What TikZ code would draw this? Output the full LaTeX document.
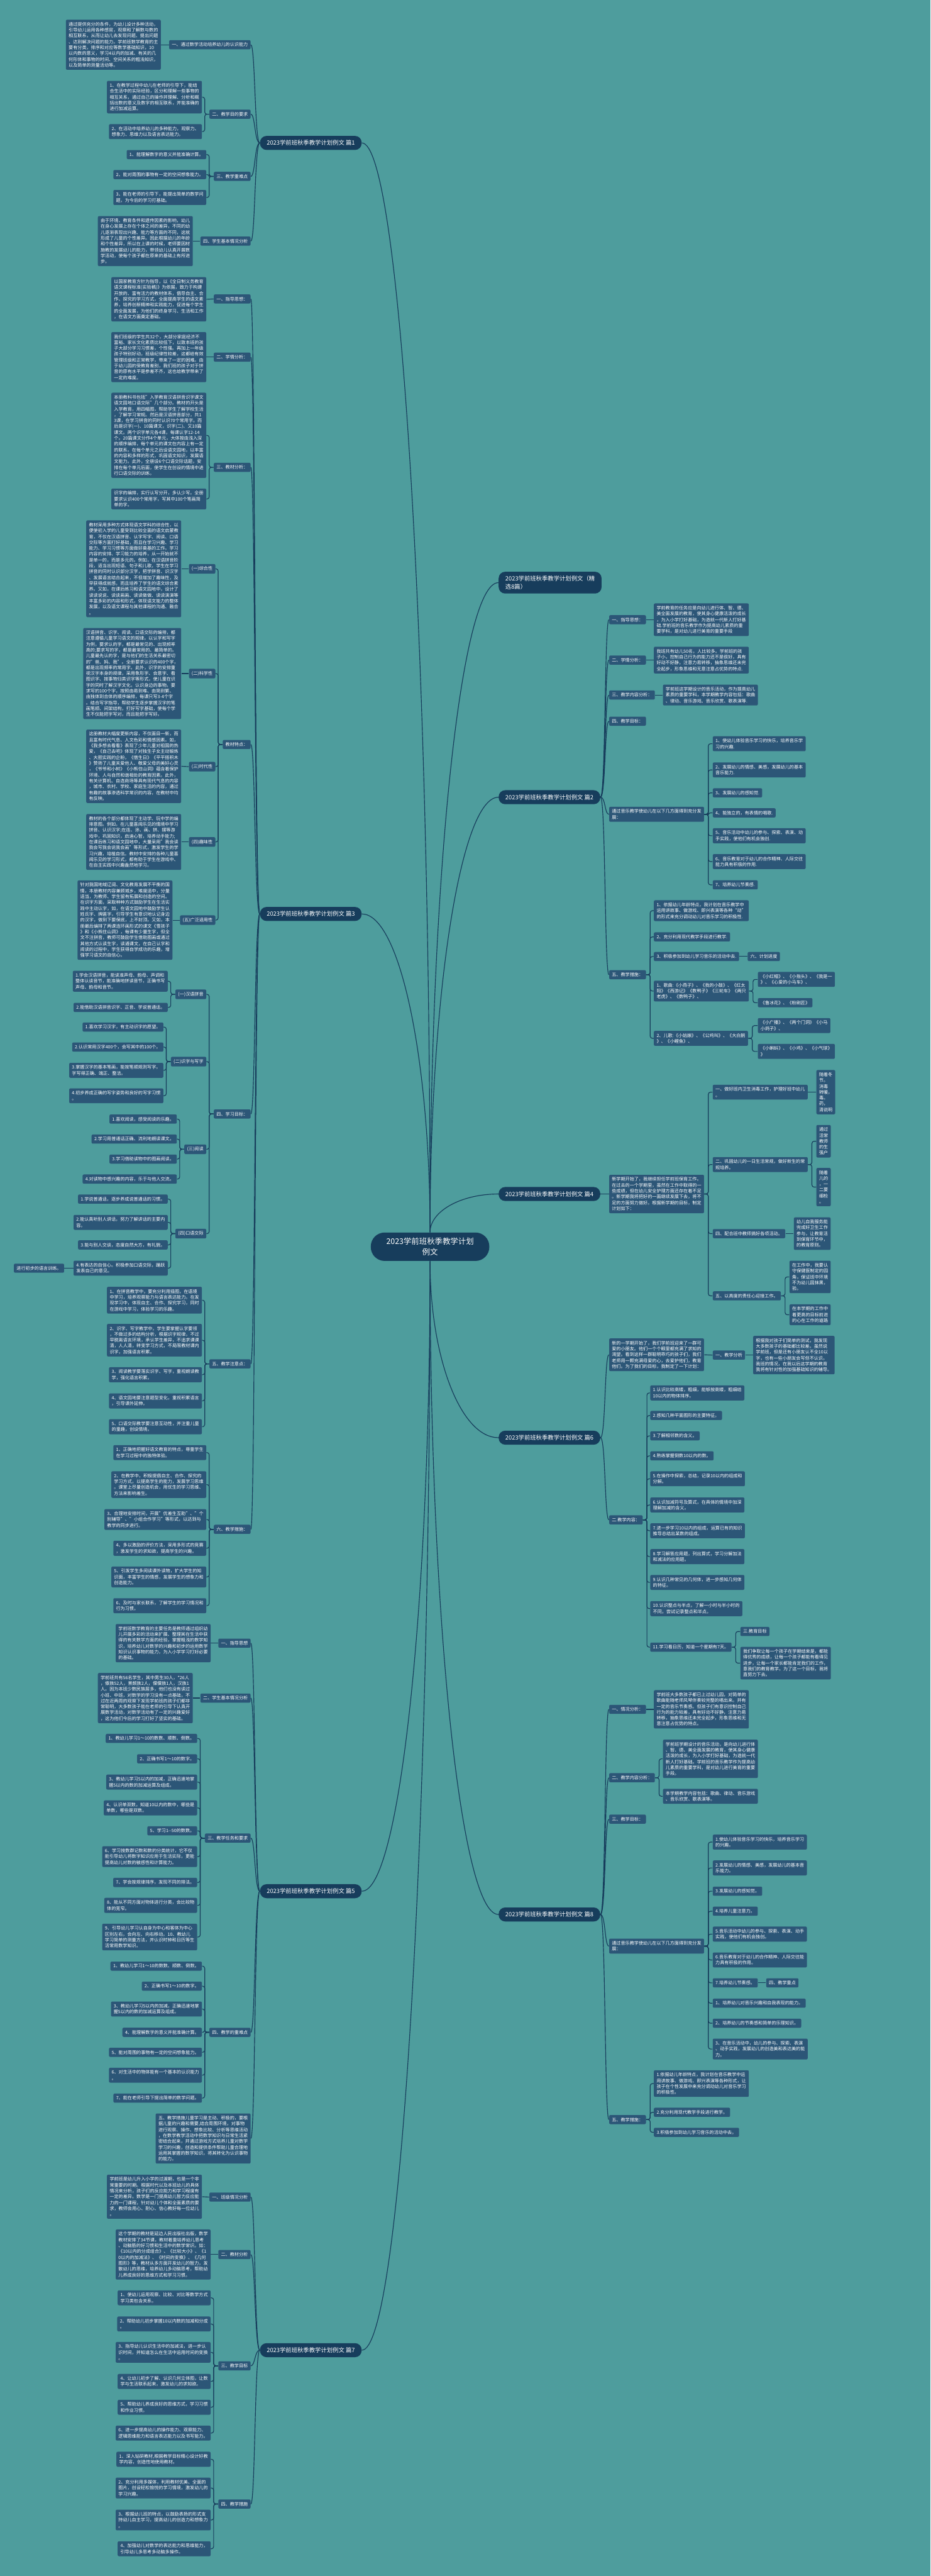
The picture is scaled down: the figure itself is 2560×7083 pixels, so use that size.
\documentclass[tikz,border=0pt]{standalone}
\usepackage{fontspec}
\setmainfont{Noto Sans CJK SC}
\usetikzlibrary{positioning, calc}
\definecolor{bgteal}{HTML}{4E9D9D}
\definecolor{boxblue}{HTML}{2C5677}
\definecolor{navy}{HTML}{173D5C}

\begin{document}
\begin{tikzpicture}[x=0.1mm, y=-0.1mm]

\tikzset{topic/.style = {fill=navy, text=white, rounded corners=3.8mm, align=center, inner xsep=2.6mm, minimum height=7.8mm, font=\fontsize{6.1}{8.5}\selectfont}}
\tikzset{branch/.style = {fill=navy, text=white, rounded corners=1.8mm, align=left, inner xsep=1.85mm, minimum height=3.6mm, font=\fontsize{4.6}{6}\selectfont}}
\tikzset{item/.style = {fill=boxblue, text=white, rounded corners=0.35mm, align=left, inner xsep=0.75mm, inner ysep=0.68mm, font=\fontsize{3.5}{4.58}\selectfont}}
\tikzset{lt/.style = {item, anchor=east}}
\tikzset{rt/.style = {item, anchor=west}}
\tikzset{link/.style = {draw=navy, line width=0.2mm, rounded corners=0.6mm}}

\fill[bgteal] (0,0) rectangle (2560,7083);
\useasboundingbox (0,0) rectangle (2560,7083);

% centre
\node[topic, minimum width=32.6mm] (ctr) at (1183,3428) {2023学前班秋季教学计划\\例文};

% left branches
\node[branch] (p1) at (855,393) {2023学前班秋季教学计划例文 篇1};
\node[branch] (p3) at (855,2513) {2023学前班秋季教学计划例文 篇3};
\node[branch] (p5) at (855,5200) {2023学前班秋季教学计划例文 篇5};
\node[branch] (p7) at (855,6462) {2023学前班秋季教学计划例文 篇7};
% right branches
\node[branch, anchor=west] (t0) at (1371,1602) {2023学前班秋季教学计划例文（精\\选8篇）};
\node[branch, anchor=west] (p2) at (1371,2192) {2023学前班秋季教学计划例文 篇2};
\node[branch, anchor=west] (p4) at (1371,3283) {2023学前班秋季教学计划例文 篇4};
\node[branch, anchor=west] (p6) at (1371,3953) {2023学前班秋季教学计划例文 篇6};
\node[branch, anchor=west] (p8) at (1371,5264) {2023学前班秋季教学计划例文 篇8};

\draw[link] (ctr.north) .. controls +(0,-1648) and +(103,0) .. (p1.east);
\draw[link] (ctr.north) .. controls +(0,-482) and +(103,0) .. (p3.east);
\draw[link] (ctr.south) .. controls +(0,953) and +(103,0) .. (p5.east);
\draw[link] (ctr.south) .. controls +(0,1647) and +(103,0) .. (p7.east);
\draw[link] (ctr.north) .. controls +(0,-983) and +(-103,0) .. (t0.west);
\draw[link] (ctr.north) .. controls +(0,-658) and +(-103,0) .. (p2.west);
\draw[link] (ctr.north) .. controls +(0,-58) and +(-103,0) .. (p4.west);
\draw[link] (ctr.south) .. controls +(0,267) and +(-103,0) .. (p6.west);
\draw[link] (ctr.south) .. controls +(0,988) and +(-103,0) .. (p8.west);

% ---- 篇1 ----
\node[lt] (a1) at (690,123) {一、通过数学活动培养幼儿的认识能力};
\node[lt] (a11) at (443,123) {通过提供充分的条件，为幼儿设计多种活动，\\引导幼儿运用各种感官，观察和了解数与数的\\相互联系，从而让幼儿去发现问题、提出问题\\、达到解决问题的能力。学前班数学教育的主\\要有分类，排序和对应等数学基础知识，10\\以内数的意义，学习4以内的加减、有关的几\\何形体和事物的时间、空间关系的粗浅知识，\\以及简单的测量活动等。};
\node[lt] (a2) at (690,314) {二、教学目的要求};
\node[lt] (a21) at (556,267) {1、在教学过程中幼儿在老师的引导下，能结\\合生活中的实际经验，区分和理解一些事物的\\相互关系，通过自己的操作并理解、分析和概\\括出数的意义及数字的相互联系，并能准确的\\进行加减运算。};
\node[lt] (a22) at (556,362) {2、在活动中培养幼儿的多种能力，观察力、\\想象力、思维力以及语言表达能力。};
\node[lt] (a3) at (690,485) {三、教学重难点};
\node[lt] (a31) at (568,425) {1、能理解数字的意义并能准确计算。};
\node[lt] (a32) at (568,480) {2、能对周围的事物有一定的空间想象能力。};
\node[lt] (a33) at (568,543) {3、能在老师的引导下，能提出简单的数学问\\题，为今后的学习打基础。};
\node[lt] (a4) at (690,663) {四、学生基本情况分析};
\node[lt] (a41) at (531,663) {由于环境、教育条件和遗传因素的影响，幼儿\\在身心发展上存在个体之间的差异，不同的幼\\儿逐渐表现出兴趣、能力等方面的不同，这就\\形成了儿童的个性差异。因此根据幼儿的年龄\\和个性差异，所以在上课的时候，老师要因材\\施教的发展幼儿的能力，带领幼儿认真开展数\\学活动，使每个孩子都在原来的基础上有所进\\步。};

\foreach \c in {a1,a2,a3,a4}
  \draw[link] (p1.west) .. controls +(-14,0) and +(12,0) .. (\c.east);
\draw[link] (a1.west) -- (a11.east);
\foreach \c in {a21,a22}
  \draw[link] (a2.west) -- ++(-12,0) |- (\c.east);
\foreach \c in {a31,a32,a33}
  \draw[link] (a3.west) -- ++(-12,0) |- (\c.east);
\draw[link] (a4.west) -- (a41.east);

% ---- 篇3 ----
\node[lt] (b1) at (690,822) {一、指导思想：};
\node[lt] (b11) at (568,823) {以国家教育方针为指导，以《全日制义务教育\\语文课程标准(实验稿)》为依据，致力于构建\\开放的、富有活力的教材体系，倡导自主、合\\作、探究的学习方式，全面提高学生的语文素\\养，培养创新精神和实践能力，促进每个学生\\的全面发展，为他们的终身学习、生活和工作\\，在语文方面奠定基础。};
\node[lt] (b2) at (690,982) {二、学情分析：};
\node[lt] (b21) at (568,982) {我们班级的学生共32个，大部分家庭经济不\\富裕、家长文化素质比较低下，以致本班的孩\\子大部分学习习惯差，个性强。再加上一年级\\孩子特别好动，班级纪律性较差，这都给有效\\管理班级和正常教学，带来了一定的困难。由\\于幼儿园的受教育差别，我们班的孩子对于拼\\音的原有水平是参差不齐，这也给教学带来了\\一定的难度。};
\node[lt] (b3) at (690,1285) {三、教材分析：};
\node[lt] (b31) at (568,1197) {本册教科书包括"入学教育汉语拼音识字课文\\语文园地口语交际"几个部分。教材的开头是\\入学教育，用四幅图，帮助学生了解学校生活\\，了解学习常规。然后是汉语拼音部分，共1\\3课，在学习拼音的同时认识70个常用字。而\\后是识字(一)、10篇课文，识字(二)、又10篇\\课文。两个识字单元各4课，每课认字12-14\\个。20篇课文分作4个单元，大体按由浅入深\\的顺序编排，每个单元的课文在内容上有一定\\的联系。在每个单元之后设语文园地，以丰富\\的内容和多样的形式，巩固语文知识，发展语\\文能力。此外，全册设6个口语交际话题，安\\排在每个单元后面，使学生在创设的情境中进\\行口语交际的训练。};
\node[lt] (b32) at (568,1372) {识字的编排，实行认写分开，多认少写。全册\\要求认识400个常用字，写其中100个笔画简\\单的字。};
\node[lt] (b4) at (690,2047) {教材特点：};
\node[lt] (b41) at (593,1564) {(一)综合性};
\node[lt] (b411) at (499,1564) {教材采用多种方式体现语文学科的综合性，以\\便使初入学的儿童受到比较全面的语文启蒙教\\育，不仅在汉语拼音、认字写字、阅读、口语\\交际等方面打好基础，而且在学习兴趣、学习\\能力、学习习惯等方面做好奠基的工作。学习\\内容的安排、学习能力的培养，从一开始就不\\是单一的，而是多元的。例如，在汉语拼音阶\\段，适当出现短语、句子和儿歌，学生在学习\\拼音的同时认识部分汉字，把学拼音、识汉字\\、发展语言结合起来，不但增加了趣味性，及\\早获得成就感，而且培养了学生的语文综合素\\养。又如，在课后练习和语文园地中，设计了\\读读说说、读读画画、读读做做、读读演演等\\丰富多彩的内容和形式，体现语文能力的整体\\发展，以及语文课程与其他课程的沟通、融合\\。};
\node[lt] (b42) at (593,1852) {(二)科学性};
\node[lt] (b421) at (499,1852) {汉语拼音、识字、阅读、口语交际的编排，都\\注意遵循儿童学习语文的规律。以认字和写字\\为例，要求认的字，都是最常见的、出现频率\\高的;要求写的字，都是最常用的、最简单的。\\儿童最先认的字，是与他们的生活关系最密切\\的"爸、妈、我"。全册要求认识的400个字，\\都是出现频率的常用字。此外，识字的安排重\\视汉字本身的规律，采用象形字、会意字、看\\图识字、按事物归类识字等形式，使儿童在识\\字的同时了解汉字文化，认识身边的事物。要\\求写的100个字，按照由易到难、由简到繁、\\由独体到合体的顺序编排，每课只写3-4个字\\。结合写字指导，帮助学生逐步掌握汉字的笔\\画笔顺、间架结构，打好写字基础，使每个学\\生不仅能把字写对，而且能把字写好。};
\node[lt] (b43) at (593,2108) {(三)时代性};
\node[lt] (b431) at (499,2107) {这册教材大幅度更新内容，不仅面目一新，而\\且富有时代气息、人文色彩和情感因素。如，\\《我多想去看看》表现了少年儿童对祖国的热\\爱，《自己去吧》体现了对独生子女主动锻炼\\、大胆实践的企盼，《借生日》《平平搭积木\\》赞扬了儿童关爱他人、敬爱父母的美好心灵\\，《爷爷和小树》《小熊住山洞》蕴含着保护\\环境、人与自然和谐相处的教育因素。此外，\\有关计算机、自选商场等具有现代气息的内容\\，城市、农村、学校、家庭生活的内容，通过\\有趣的故事渗透科学常识的内容，在教材中均\\有反映。};
\node[lt] (b44) at (593,2315) {(四)趣味性};
\node[lt] (b441) at (499,2315) {教材的各个部分都体现了主动学、玩中学的编\\排意图。例如，在儿童喜闻乐见的情境中学习\\拼音、认识汉字;在连、涂、画、拼、摆等游\\戏中，巩固知识，启迪心智，培养动手能力;\\在课后练习和语文园地中，大量采用"我会读\\我会写我会说我会画"等形式，激发学生的学\\习兴趣，培植自信。教材中安排的各种儿童喜\\闻乐见的学习形式，都有助于学生在游戏中、\\在自主实践中兴趣盎然地学习。};
\node[lt] (b45) at (593,2530) {(五)广泛适用性};
\node[lt] (b451) at (475,2530) {针对我国地域辽阔、文化教育发展不平衡的国\\情，本册教材内容兼顾城乡，难度适中，分量\\适当，为教师、学生留有拓展和创造的空间。\\在识字方面，采取种种方式鼓励学生在生活实\\践中主动认字，如，在语文园地中鼓励学生认\\姓氏字、牌匾字，引导学生有意识地认记身边\\的汉字，做到下要保底，上不封顶。又如，本\\册最后编排了两课连环画形式的课文《雪孩子\\》和《小熊住山洞》，每课有少量生字，但全\\文不注拼音，教师可鼓励学生借助图画或通过\\其他方式认读生字，读通课文，在自己认字和\\阅读的过程中，学生获得自学成功的乐趣，增\\强学习语文的自信心。};
\node[lt] (b5) at (690,3063) {四、学习目标：};
\node[lt] (b51) at (568,2734) {(一)汉语拼音};
\node[lt] (b511) at (462,2698) {1.学会汉语拼音，能读准声母、韵母、声调和\\整体认读音节，能准确地拼读音节，正确书写\\声母、韵母和音节。};
\node[lt] (b512) at (462,2770) {2.能借助汉语拼音识字、正音、学说普通话。};
\node[lt] (b52) at (568,2919) {(二)识字与写字};
\node[lt] (b521) at (450,2824) {1.喜欢学习汉字，有主动识字的愿望。};
\node[lt] (b522) at (450,2879) {2.认识常用汉字400个，会写其中的100个。};
\node[lt] (b523) at (450,2943) {3.掌握汉字的基本笔画，能按笔顺规则写字。\\字写得正确、端正、整洁。};
\node[lt] (b524) at (450,3013) {4.初步养成正确的写字姿势和良好的写字习惯\\。};
\node[lt] (b53) at (568,3160) {(三)阅读};
\node[lt] (b531) at (487,3077) {1.喜欢阅读，感受阅读的乐趣。};
\node[lt] (b532) at (487,3132) {2.学习用普通话正确、流利地朗读课文。};
\node[lt] (b533) at (487,3187) {3.学习借助读物中的图画阅读。};
\node[lt] (b534) at (487,3242) {4.对读物中感兴趣的内容，乐于与他人交流。};
\node[lt] (b54) at (568,3392) {(四)口语交际};
\node[lt] (b541) at (462,3297) {1.学说普通话，逐步养成说普通话的习惯。};
\node[lt] (b542) at (462,3361) {2.能认真听别人讲话，努力了解讲话的主要内\\容。};
\node[lt] (b543) at (462,3423) {3.能与别人交谈，态度自然大方，有礼貌。};
\node[lt] (b544) at (462,3487) {4.有表达的自信心。积极参加口语交际，踊跃\\发表自己的意见。};
\node[lt] (b5441) at (177,3487) {进行初步的语言训练。};
\node[lt] (b6) at (690,3750) {五、教学注意点：};
\node[lt] (b61) at (556,3575) {1、在拼音教学中，要充分利用插图，在语境\\中学习，培养观察能力与语言表达能力。在发\\现学习中，体现自主、合作、探究学习，同时\\在游戏中学习，体验学习的乐趣。};
\node[lt] (b62) at (556,3685) {2、识字、写字教学中，学生要掌握认字要领\\，不做过多的结构分析，根据识字规律，不过\\早脱离语言环境，承认学生差异，不追求课课\\清，人人清，转变学习方式，不局限教材课内\\识字，加强语言积累。};
\node[lt] (b63) at (556,3780) {3、阅读教学要落实识字、写字，重视朗读教\\学，强化语言积累。};
\node[lt] (b64) at (556,3852) {4、语文园地要注意题型变化，重视积累语言\\，引导课外延伸。};
\node[lt] (b65) at (556,3923) {5、口语交际教学要注意互动性，并注重儿童\\的童趣，创设情境。};
\node[lt] (b7) at (690,4205) {六、教学措施：};
\node[lt] (b71) at (568,3994) {1、正确地把握好语文教育的特点，尊重学生\\在学习过程中的独特体验。};
\node[lt] (b72) at (568,4082) {2、在教学中，积极提倡自主、合作、探究的\\学习方式，以提高学生的能力，发展学习思维\\。课堂上尽量创造机会，用优生的学习思维、\\方法来影响差生。};
\node[lt] (b73) at (568,4178) {3、合理地安排时间，开展"优差生互助"、"个\\别辅导"、"小组合作学习"等形式，以达到与\\教学的同步进行。};
\node[lt] (b74) at (568,4257) {4、多以激励的评价方法，采用多形式的竞赛\\，激发学生的求知欲，提高学生的兴趣。};
\node[lt] (b75) at (568,4336) {5、引发学生多阅读课外读物，扩大学生的知\\识面，丰富学生的情感，发展学生的想象力和\\创造能力。};
\node[lt] (b76) at (568,4415) {6、及时与家长联系，了解学生的学习情况和\\行为习惯。};

\foreach \c in {b1,b2,b3,b4,b5,b6,b7}
  \draw[link] (p3.west) .. controls +(-14,0) and +(12,0) .. (\c.east);
\draw[link] (b1.west) -- (b11.east);
\draw[link] (b2.west) -- (b21.east);
\foreach \c in {b31,b32}
  \draw[link] (b3.west) -- ++(-12,0) |- (\c.east);
\foreach \c in {b41,b42,b43,b44,b45}
  \draw[link] (b4.west) -- ++(-12,0) |- (\c.east);
\draw[link] (b41.west) -- (b411.east);
\draw[link] (b42.west) -- (b421.east);
\draw[link] (b43.west) -- (b431.east);
\draw[link] (b44.west) -- (b441.east);
\draw[link] (b45.west) -- (b451.east);
\foreach \c in {b51,b52,b53,b54}
  \draw[link] (b5.west) -- ++(-12,0) |- (\c.east);
\foreach \c in {b511,b512}
  \draw[link] (b51.west) -- ++(-12,0) |- (\c.east);
\foreach \c in {b521,b522,b523,b524}
  \draw[link] (b52.west) -- ++(-12,0) |- (\c.east);
\foreach \c in {b531,b532,b533,b534}
  \draw[link] (b53.west) -- ++(-12,0) |- (\c.east);
\foreach \c in {b541,b542,b543,b544}
  \draw[link] (b54.west) -- ++(-12,0) |- (\c.east);
\draw[link] (b544.west) -- (b5441.east);
\foreach \c in {b61,b62,b63,b64,b65}
  \draw[link] (b6.west) -- ++(-12,0) |- (\c.east);
\foreach \c in {b71,b72,b73,b74,b75,b76}
  \draw[link] (b7.west) -- ++(-12,0) |- (\c.east);

% ---- 篇5 ----
\node[lt] (c1) at (690,4518) {一、指导思想};
\node[lt] (c11) at (580,4518) {学前班数学教育的主要任务是教师通过组织幼\\儿开展多彩的活动来扩展、整理其在生活中获\\得的有关数学方面的经验，掌握粗浅的数学知\\识，培养幼儿对数学的兴趣和初步的运用数学\\知识认识事物的能力，为入小学学习打好必要\\的基础。};
\node[lt] (c2) at (690,4669) {二、学生基本情况分析};
\node[lt] (c21) at (531,4669) {学前班共有56名学生，其中男生30人，*26人\\，傣族52人，景颇族2人，傈僳族1人，汉族1\\人。因为本班少数民族居多，他们也没有读过\\小班、中班，对数学的学习没有一点基础，不\\过在近两周的观察下发现学前班的孩子们都非\\常聪明，大多数孩子能在老师的引导下认真开\\展数学活动，对数学活动有了一定的兴趣爱好\\，这为他们今后的学习打好了坚实的基础。};
\node[lt] (c3) at (690,5054) {三、教学任务和要求};
\node[lt] (c31) at (543,4780) {1、教幼儿学习1～10的数数、顺数、倒数。};
\node[lt] (c32) at (543,4836) {2、正确书写1～10的数字。};
\node[lt] (c33) at (543,4900) {3、教幼儿学习5以内的加减，正确迅速地掌\\握5以内的数的加减运算及组成。};
\node[lt] (c34) at (543,4971) {4、认识单双数，知道10以内的数中，哪些是\\单数，哪些是双数。};
\node[lt] (c35) at (543,5034) {5、学习1-{}-50的数数。};
\node[lt] (c36) at (543,5105) {6、学习按数群记数和数的分类统计，它不仅\\能引导幼儿将数字知识应用于生活实际，更能\\提高幼儿对数的敏感性和计算能力。};
\node[lt] (c37) at (543,5176) {7、学会按规律排序，发现不同的排法。};
\node[lt] (c38) at (543,5239) {8、能从不同方面对物体进行分类，会比较物\\体的宽窄。};
\node[lt] (c39) at (543,5326) {9、引导幼儿学习认自身为中心和客体为中心\\区别左右，会向左、向右移动。10、教幼儿\\学习简单的测量方法，并认识时钟和日历等生\\活常用数学知识。};
\node[lt] (c4) at (690,5588) {四、教学的重难点};
\node[lt] (c41) at (556,5406) {1、教幼儿学习1～10的数数、顺数、倒数。};
\node[lt] (c42) at (556,5461) {2、正确书写1～10的数字。};
\node[lt] (c43) at (556,5524) {3、教幼儿学习5以内的加减，正确迅速地掌\\握5以内的数的加减运算及组成。};
\node[lt] (c44) at (556,5588) {4、能理解数字的意义并能准确计算。};
\node[lt] (c45) at (556,5643) {5、能对周围的事物有一定的空间想象能力。};
\node[lt] (c46) at (556,5706) {6、对生活中的物体能有一个基本的认识能力\\。};
\node[lt] (c47) at (556,5769) {7、能在老师引导下提出简单的数学问题。};
\node[lt] (c5) at (690,5880) {五、教学措施儿童学习是主动、积极的，要根\\据儿童的兴趣和需要,结合周围环境，对事物\\进行观察、操作、想象比较、分析等思维活动\\，在数学教学活动中把数学知识与日常生活紧\\密结合起来，并通过游戏方式培养儿童对数学\\学习的兴趣，创造和提供条件帮助儿童合理地\\运用其掌握的数学知识，将其转化为认识事物\\的能力。};

\foreach \c in {c1,c2,c3,c4,c5}
  \draw[link] (p5.west) .. controls +(-14,0) and +(12,0) .. (\c.east);
\draw[link] (c1.west) -- (c11.east);
\draw[link] (c2.west) -- (c21.east);
\foreach \c in {c31,c32,c33,c34,c35,c36,c37,c38,c39}
  \draw[link] (c3.west) -- ++(-12,0) |- (\c.east);
\foreach \c in {c41,c42,c43,c44,c45,c46,c47}
  \draw[link] (c4.west) -- ++(-12,0) |- (\c.east);

% ---- 篇7 ----
\node[lt] (d1) at (690,6041) {一、班级情况分析};
\node[lt] (d11) at (556,6040) {学前班是幼儿升入小学的过渡期，也是一个非\\常重要的时期。根据时代以及本班幼儿的具体\\情况来分析，孩子们的反应能力和学习程度有\\一定的差异。数学是一门提高幼儿智力反应能\\力的一门课程，针对幼儿个体和全面素质的要\\求，教师会用心、耐心、信心教好每一位幼儿\\。};
\node[lt] (d2) at (690,6199) {二、教材分析};
\node[lt] (d21) at (580,6199) {这个学期的教材是延边人民出版社出版，数学\\教材安排了34节课，教材着重培养幼儿思考\\、动脑筋的好习惯和生活中的数学常识。如：\\《10以内的分成组合》、《比较大小》、《1\\0以内的加减法》、《时间的变换》、《几何\\图形》等，教材从多方面开发幼儿的智力，发\\散幼儿的思维，培养幼儿多动脑思考，帮助幼\\儿养成良好的思维方式和学习习惯。};
\node[lt] (d3) at (690,6505) {三、教学目标};
\node[lt] (d31) at (580,6318) {1、使幼儿运用观察、比较、对比等数学方式\\学习类包含关系。};
\node[lt] (d32) at (580,6390) {2、帮助幼儿初步掌握10以内数的加减和分成\\。};
\node[lt] (d33) at (580,6468) {3、指导幼儿认识生活中的加减法，进一步认\\识时间，并知道怎么在生活中运用时间的变换\\。};
\node[lt] (d34) at (580,6548) {4、让幼儿初步了解、认识几何立体图，让数\\学与生活联系起来，激发幼儿的求知欲。};
\node[lt] (d35) at (580,6619) {5、帮助幼儿养成良好的思维方式，学习习惯\\和作业习惯。};
\node[lt] (d36) at (580,6690) {6、进一步提高幼儿的操作能力、观察能力、\\逻辑思维能力和语言表达能力以及书写能力。};
\node[lt] (d4) at (690,6885) {四、教学措施};
\node[lt] (d41) at (580,6762) {1、深入钻研教材,根据教学目标精心设计好教\\学内容，创造性地使用教材。};
\node[lt] (d42) at (580,6841) {2、充分利用多媒体，利用教材优美、全面的\\图片，创设轻松愉悦的学习情境，激发幼儿的\\学习兴趣。};
\node[lt] (d43) at (580,6929) {3、根据幼儿班的特点，以鼓励表扬的形式支\\持幼儿自主学习，提高幼儿的创造力和想象力\\。};
\node[lt] (d44) at (580,7008) {4、加强幼儿对数学的表达能力和思维能力，\\引导幼儿多思考多动脑多操作。};

\foreach \c in {d1,d2,d3,d4}
  \draw[link] (p7.west) .. controls +(-14,0) and +(12,0) .. (\c.east);
\draw[link] (d1.west) -- (d11.east);
\draw[link] (d2.west) -- (d21.east);
\foreach \c in {d31,d32,d33,d34,d35,d36}
  \draw[link] (d3.west) -- ++(-12,0) |- (\c.east);
\foreach \c in {d41,d42,d43,d44}
  \draw[link] (d4.west) -- ++(-12,0) |- (\c.east);

% ---- 篇2 ----
\node[rt] (e1) at (1675,1704) {一、指导思想：};
\node[rt] (e11) at (1798,1704) {学前教育的任务应是向幼儿进行体、智、德、\\美全面发展的教育，使其身心健康活泼的成长\\，为入小学打好基础，为造就一代新人打好基\\础.学前班的音乐教学作为提高幼儿素质的重\\要学科，是对幼儿进行美育的重要手段};
\node[rt] (e2) at (1675,1815) {二、学情分析：};
\node[rt] (e21) at (1798,1815) {我班共有幼儿50名，人比较多。学前班的孩\\子小，控制自己行为的能力还不是很好，具有\\好动不好静，注意力易转移，抽象思维还未完\\全起步，形象思维和无意注意占优势的特点.};
\node[rt] (e3) at (1675,1911) {三、教学内容分析：};
\node[rt] (e31) at (1823,1911) {学前班这学期设计的音乐活动，作为提高幼儿\\素质的重要学科，本学期教学内容包括：歌曲\\、律动、音乐游戏、音乐欣赏、歌表演等.};
\node[rt] (e4) at (1675,1983) {四、教学目标：};
\node[rt] (e5) at (1675,2239) {通过音乐教学使幼儿在以下几方面得到充分发\\展：};
\node[rt] (e51) at (1960,2045) {1、使幼儿体验音乐学习的快乐，培养音乐学\\习的兴趣.};
\node[rt] (e52) at (1960,2117) {2、发展幼儿的情感、美感，发展幼儿的基本\\音乐能力.};
\node[rt] (e53) at (1960,2180) {3、发展幼儿的感知觉.};
\node[rt] (e54) at (1960,2235) {4、能独立的，有表情的唱歌.};
\node[rt] (e55) at (1960,2298) {5、音乐活动中幼儿的参与、探索、表演、动\\手实践，使他们有机会独创.};
\node[rt] (e56) at (1960,2369) {6、音乐教育对于幼儿的合作精神、人际交往\\能力具有积极的作用.};
\node[rt] (e57) at (1960,2433) {7、培养幼儿节奏感.};
\node[rt] (e6) at (1675,2680) {五、教学措施：};
\node[rt] (e61) at (1798,2504) {1、依据幼儿年龄特点，我计划在音乐教学中\\运用讲故事、做游戏、即兴表演等各种“动”\\的形式来充分调动幼儿对音乐学习的积极性.};
\node[rt] (e62) at (1798,2576) {2、充分利用现代教学手段进行教学.};
\node[rt] (e63) at (1798,2630) {3、积极参加到幼儿学习音乐的活动中去.};
\node[rt] (e631) at (2056,2630) {六、计划进度};
\node[rt] (e64) at (1798,2725) {1、歌曲:《小燕子》、《我的小鼓》、《红太\\阳》《西游记》《数鸭子》《三轮车》《两只\\老虎》、《数鸭子》、};
\node[rt] (e641) at (2084,2693) {《小红帽》、《小指头》、《我是一\\》、《心爱的小马车》、};
\node[rt] (e642) at (2084,2757) {《鲁冰花》、《粉刷匠》};
\node[rt] (e65) at (1798,2855) {2、儿歌:《小姑娘》、《公鸡叫》、《大白鹅\\》、《小鲤鱼》、};
\node[rt] (e651) at (2084,2820) {《小广播》、《两个门洞》《小马\\小鸽子》、};
\node[rt] (e652) at (2084,2891) {《小蝌蚪》、《小鸡》、《小气球》\\》};

\foreach \c in {e1,e2,e3,e4,e5,e6}
  \draw[link] (p2.east) .. controls +(14,0) and +(-12,0) .. (\c.west);
\draw[link] (e1.east) -- (e11.west);
\draw[link] (e2.east) -- (e21.west);
\draw[link] (e3.east) -- (e31.west);
\foreach \c in {e51,e52,e53,e54,e55,e56,e57}
  \draw[link] (e5.east) -- ++(11,0) |- (\c.west);
\foreach \c in {e61,e62,e63,e64,e65}
  \draw[link] (e6.east) -- ++(11,0) |- (\c.west);
\draw[link] (e63.east) -- (e631.west);
\foreach \c in {e641,e642}
  \draw[link] (e64.east) -- ++(11,0) |- (\c.west);
\foreach \c in {e651,e652}
  \draw[link] (e65.east) -- ++(11,0) |- (\c.west);

% ---- 篇4 ----
\node[rt] (f0) at (1675,3283) {新学期开始了，我继续担任学前班保育工作。\\在过去的一个学期里，虽然在工作中取得的一\\些成绩，但在幼儿安全护理方面还存在着不足\\。新学期我将把好的一面继续发展下去，将不\\足的方面努力做好。根据新学期的目标，制定\\计划如下：};
\node[rt] (g1) at (1960,3003) {一、做好班内卫生消毒工作，护理好班中幼儿\\。};
\node[rt] (g11) at (2245,3003) {随着冬\\节。\\消毒\\转暖，\\毒。\\药，\\清说明};
\node[rt] (g2) at (1960,3202) {二、巩固幼儿的一日生活常规，做好新生的常\\规培养。};
\node[rt] (g21) at (2245,3138) {通过\\活常\\教师\\的生\\强户};
\node[rt] (g22) at (2245,3264) {随着\\儿的\\，一\\二要\\细检\\。};
\node[rt] (g3) at (1960,3392) {四、配合班中教师搞好各项活动。};
\node[rt] (g31) at (2183,3392) {幼儿自我服务能\\完成好卫生工作\\参与，让教育活\\到保育环节中，\\的教育原则。};
\node[rt] (g4) at (1960,3563) {五、以高度的责任心迎接工作。};
\node[rt] (g41) at (2171,3511) {在工作中，我要认\\守保健医制定的园\\角，保证班中环境\\不为幼儿园抹黑，\\验。};
\node[rt] (g42) at (2171,3615) {在本学期的工作中\\着更高的目标前进\\的心在工作的道路};

\draw[link] (p4.east) -- (f0.west);
\foreach \c in {g1,g2,g3,g4}
  \draw[link] (f0.east) -- ++(11,0) |- (\c.west);
\draw[link] (g1.east) -- (g11.west);
\foreach \c in {g21,g22}
  \draw[link] (g2.east) -- ++(11,0) |- (\c.west);
\draw[link] (g3.east) -- (g31.west);
\foreach \c in {g41,g42}
  \draw[link] (g4.east) -- ++(11,0) |- (\c.west);

% ---- 篇6 ----
\node[rt] (h1) at (1675,3725) {新的一学期开始了，我们学前班迎来了一群可\\爱的小朋友。他们一个个眼里都充满了求知的\\渴望。看到这样一群聪明乖巧的孩子们，我们\\老师用一颗充满母爱的心，去爱护他们，教育\\他们。为了我们的目标，我制定了一下计划：};
\node[rt] (h11) at (1960,3726) {一、教学分析};
\node[rt] (h111) at (2071,3726) {根据我对孩子们简单的测试，我发现\\大多数孩子的基础都比较差。虽然说\\学前班，但是还有小朋友认不全10以\\字，也有一些小朋友会写但不认识。\\我班的情况，在我以后这学期的教育\\我将有针对性的加强基础知识的辅导。};
\node[rt] (h2) at (1675,4179) {二.教学内容：};
\node[rt] (h21) at (1788,3830) {1.认识比较高矮，粗细，能够按高矮，粗细给\\10以内的物体排序。};
\node[rt] (h22) at (1788,3892) {2.感知几种平面图形的主要特征。};
\node[rt] (h23) at (1788,3948) {3.了解相邻数的含义。};
\node[rt] (h24) at (1788,4003) {4.熟练掌握倒数10以内的数。};
\node[rt] (h25) at (1788,4066) {5.在操作中探索，总结，记录10以内的组成和\\分解。};
\node[rt] (h26) at (1788,4138) {6.认识加减符号及算式，在具体的情境中加深\\理解加减的含义。};
\node[rt] (h27) at (1788,4209) {7.进一步学习10以内的组成，运算已有的知识\\推导总结出某数的组成。};
\node[rt] (h28) at (1788,4280) {8.学习解答应用题，列出算式，学习分解加法\\和减法的应用题。};
\node[rt] (h29) at (1788,4351) {9.认识几种常见的几何体，进一步感知几何体\\的特征。};
\node[rt] (h210) at (1788,4423) {10.认识整点与半点，了解一小时与半小时的\\不同，尝试记录整点和半点。};
\node[rt] (h211) at (1788,4529) {11.学习看日历，知道一个星期有7天。};
\node[rt] (h2111) at (2036,4486) {三.教育目标};
\node[rt] (h2112) at (2036,4573) {我们争取让每一个孩子在学期结束是，都能\\得优秀的成绩，让每一个孩子都能有看得见\\进步，让每一个家长都能肯定我们的工作，\\意我们的教育教学。为了这一个目标，我将\\直努力下去。};

\foreach \c in {h1,h2}
  \draw[link] (p6.east) .. controls +(14,0) and +(-12,0) .. (\c.west);
\draw[link] (h1.east) -- (h11.west);
\draw[link] (h11.east) -- (h111.west);
\foreach \c in {h21,h22,h23,h24,h25,h26,h27,h28,h29,h210,h211}
  \draw[link] (h2.east) -- ++(11,0) |- (\c.west);
\foreach \c in {h2111,h2112}
  \draw[link] (h211.east) -- ++(11,0) |- (\c.west);

% ---- 篇8 ----
\node[rt] (i1) at (1675,4700) {一、情况分析：};
\node[rt] (i11) at (1798,4700) {学前班大多数孩子都已上过幼儿园，对简单的\\歌曲能随老师风琴伴奏较完整的唱出来。并有\\一定的音乐节奏感。但孩子们有意识控制自己\\行为的能力较差，具有好动不好静，注意力易\\转移，抽象思维还未完全起步，形象思维和无\\意注意占优势的特点。};
\node[rt] (i2) at (1675,4888) {二、教学内容分析：};
\node[rt] (i21) at (1823,4836) {学前班学期设计的音乐活动，是向幼儿进行体\\、智、德、美全面发展的教育，使其身心健康\\活泼的成长，为入小学打好基础，为造就一代\\新人打好基础。学前班的音乐教学作为提高幼\\儿素质的重要学科，是对幼儿进行美育的重要\\手段。};
\node[rt] (i22) at (1823,4939) {本学期教学内容包括：歌曲、律动、音乐游戏\\、音乐欣赏、歌表演等。};
\node[rt] (i3) at (1675,5002) {三、教学目标：};
\node[rt] (i4) at (1675,5351) {通过音乐教学使幼儿在以下几方面得到充分发\\展：};
\node[rt] (i41) at (1960,5065) {1.使幼儿体验音乐学习的快乐，培养音乐学习\\的兴趣。};
\node[rt] (i42) at (1960,5136) {2.发展幼儿的情感、美感，发展幼儿的基本音\\乐能力。};
\node[rt] (i43) at (1960,5200) {3.发展幼儿的感知觉。};
\node[rt] (i44) at (1960,5255) {4.培养儿童注意力。};
\node[rt] (i45) at (1960,5318) {5.音乐活动中幼儿的参与、探索、表演、动手\\实践，使他们有机会独创。};
\node[rt] (i46) at (1960,5389) {6.音乐教育对于幼儿的合作精神、人际交往能\\力具有积极的作用。};
\node[rt] (i47) at (1960,5452) {7.培养幼儿节奏感。};
\node[rt] (i471) at (2107,5452) {四、教学重点};
\node[rt] (i48) at (1960,5508) {1、培养幼儿对音乐兴趣和自我表现的能力。};
\node[rt] (i49) at (1960,5563) {2、培养幼儿的节奏感和简单的乐理知识。};
\node[rt] (i410) at (1960,5634) {3、在音乐活动中，幼儿的参与、探索、表演\\、动手实践，发展幼儿的创造美和表达美的能\\力。};
\node[rt] (i5) at (1675,5828) {五、教学措施：};
\node[rt] (i51) at (1798,5729) {1.依据幼儿年龄特点，我计划在音乐教学中运\\用讲故事、做游戏、即兴表演等各种形式，让\\孩子在个性发展中来充分调动幼儿对音乐学习\\的积极性。};
\node[rt] (i52) at (1798,5808) {2.充分利用现代教学手段进行教学。};
\node[rt] (i53) at (1798,5863) {3.积极参加到幼儿学习音乐的活动中去。};

\foreach \c in {i1,i2,i3,i4,i5}
  \draw[link] (p8.east) .. controls +(14,0) and +(-12,0) .. (\c.west);
\draw[link] (i1.east) -- (i11.west);
\foreach \c in {i21,i22}
  \draw[link] (i2.east) -- ++(11,0) |- (\c.west);
\foreach \c in {i41,i42,i43,i44,i45,i46,i47,i48,i49,i410}
  \draw[link] (i4.east) -- ++(11,0) |- (\c.west);
\draw[link] (i47.east) -- (i471.west);
\foreach \c in {i51,i52,i53}
  \draw[link] (i5.east) -- ++(11,0) |- (\c.west);

\end{tikzpicture}
\end{document}
